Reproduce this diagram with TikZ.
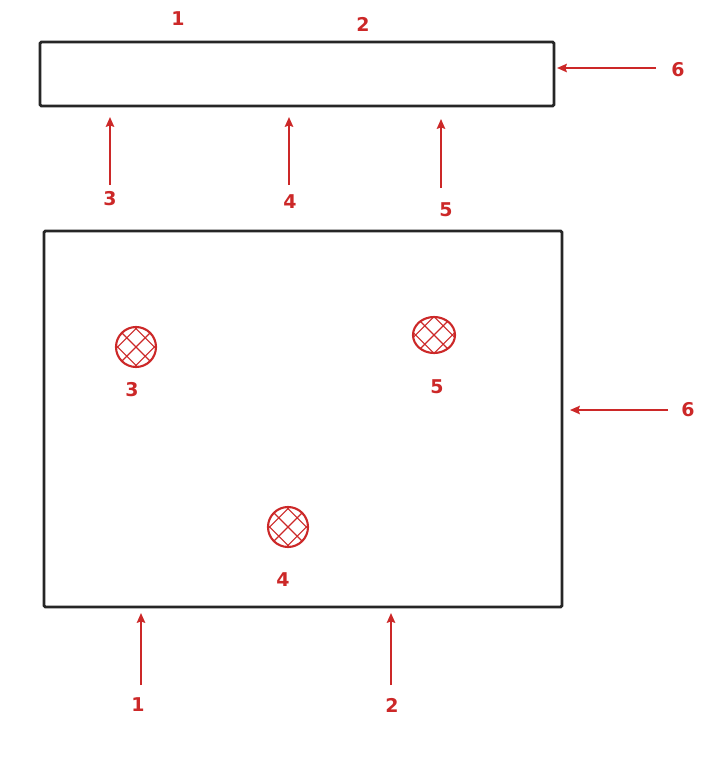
\documentclass[tikz,border=0pt]{standalone}
\usepackage{fontspec}
\setmainfont{DejaVu Sans}
\usepackage{tikz}
\usetikzlibrary{shapes.geometric,calc,arrows.meta}

\definecolor{markred}{RGB}{204,40,40}

\begin{document}
\begin{tikzpicture}[
            x = 0.25mm, y = -0.25mm, % pixel grid, y downwards
            > = {Stealth[length=7pt,width=6pt,inset=1pt]}, % arrow head style
            every node/.style = {font=\fontsize{13.5}{16}\selectfont\bfseries, text=markred},
            box/.style = {draw=black!85, line width=2pt, rounded corners=1pt,
                          inner sep=0pt, outer sep=0pt},
            feed/.style = {->, draw=markred, line width=1.2pt},
            hole/.style = {draw=markred, line width=1.5pt, inner sep=0pt,
                path picture={
                    \foreach \k in {-4.6,0,4.6} {
                        \draw[markred, line width=0.8pt] ([xshift=\k mm]path picture bounding box.center) ++(-7mm,-7mm) -- ++(14mm,14mm);
                        \draw[markred, line width=0.8pt] ([xshift=\k mm]path picture bounding box.center) ++(-7mm,7mm) -- ++(14mm,-14mm);
                    }
                }}
        ]
\useasboundingbox (0,0) rectangle (717,770);

% the two plates
\node[box, minimum width=128.5mm, minimum height=16mm] (top) at (297,74) {};
\node[box, minimum width=129.5mm, minimum height=94mm] (plate) at (303,419) {};

% labels on top of the upper plate
\node (t1) at (178,19) {1};
\node (t2) at (363,24) {2};

% side feeds
\node (s6a) at (678,70) {6};
\coordinate (s6aT) at (656,68);
\path[feed] (s6aT) -- ([xshift=0.75mm]top.east |- s6aT);
\node (s6b) at (688,410) {6};
\coordinate (s6bT) at (668,410);
\path[feed] (s6bT) -- ([xshift=2mm]plate.east |- s6bT);

% feeds between the plates
\node (m3) at (110,199) {3};
\node (m4) at (290,202) {4};
\node (m5) at (446,210) {5};
\coordinate (m3T) at (110,185);
\coordinate (m4T) at (289,185);
\coordinate (m5T) at (441,188);
\path[feed] (m3T) -- ([yshift=-2.75mm]m3T |- top.south);
\path[feed] (m4T) -- ([yshift=-2.75mm]m4T |- top.south);
\path[feed] (m5T) -- ([yshift=-3.25mm]m5T |- top.south);

% holes in the lower plate
\node[hole, circle, minimum size=10mm] (h3) at (136,347) {};
\node[hole, ellipse, minimum width=10.5mm, minimum height=9mm] (h5) at (434,335) {};
\node[hole, circle, minimum size=10mm] (h4) at (288,527) {};
\node (h3l) at (132,390) {3};
\node (h5l) at (437,387) {5};
\node (h4l) at (283,580) {4};

% feeds below the lower plate
\node (b1) at (138,705) {1};
\node (b2) at (392,705) {2};
\coordinate (b1T) at (141,685);
\coordinate (b2T) at (391,685);
\path[feed] (b1T) -- ([yshift=-1.5mm]b1T |- plate.south);
\path[feed] (b2T) -- ([yshift=-1.5mm]b2T |- plate.south);
\end{tikzpicture}
\end{document}
